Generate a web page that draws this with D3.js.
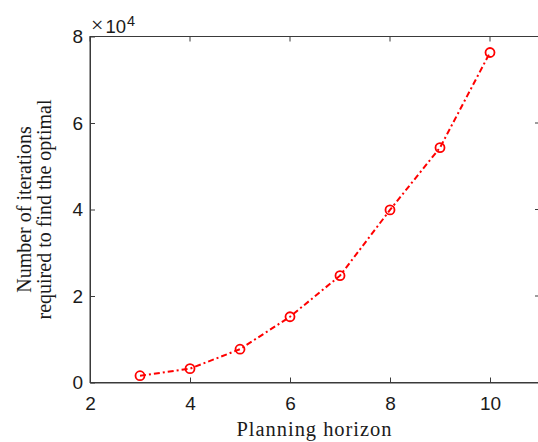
<!DOCTYPE html>
<html>
<head>
<meta charset="utf-8">
<script src="https://cdn.jsdelivr.net/npm/d3@7"></script>
<style>
  body { margin: 0; background: #fff; }
  svg { display: block; }
</style>
</head>
<body>
<div id="chart"></div>
<script>
// planning horizon vs. iterations needed (plotted in units of 1e4)
const horizon = [3, 4, 5, 6, 7, 8, 9, 10];
const iterations = [1570, 3200, 7700, 15200, 24700, 39900, 54300, 76300];
const xTicks = [2, 4, 6, 8, 10];
const yTicks = [0, 2, 4, 6, 8];
const yLabelLines = ["Number of iterations", "required to find the optimal"];
const xLabel = "Planning horizon";

const width = 538, height = 442;
const margin = { top: 36.5, right: -2, bottom: 59.5, left: 90 };

const svg = d3.select("#chart").append("svg")
  .attr("width", width)
  .attr("height", height);

const x = d3.scaleLinear().domain([2, 11]).range([margin.left, width - margin.right]);
const y = d3.scaleLinear().domain([0, 8]).range([height - margin.bottom, margin.top]);

const axisColor = "#3a3a3a";
const textColor = "#1a1a1a";
const tickFont = "'Liberation Sans', Arial, sans-serif";
const serifFont = "'Liberation Serif', 'DejaVu Serif', serif";

// box
svg.append("rect")
  .attr("x", x(2)).attr("y", y(8))
  .attr("width", x(11) - x(2)).attr("height", y(0) - y(8))
  .attr("fill", "none").attr("stroke", axisColor).attr("stroke-width", 1);

const xAxis = svg.append("g")
  .attr("transform", `translate(0,${y(0)})`)
  .call(d3.axisBottom(x).tickValues(xTicks).tickSizeInner(-5).tickSizeOuter(0).tickPadding(14));
const yAxis = svg.append("g")
  .attr("transform", `translate(${x(2)},0)`)
  .call(d3.axisLeft(y).tickValues(yTicks).tickSizeInner(-5).tickSizeOuter(0).tickPadding(7));

[xAxis, yAxis].forEach(g => {
  g.select(".domain").attr("stroke", axisColor);
  g.selectAll(".tick line").attr("stroke", axisColor);
  g.selectAll(".tick text")
    .attr("fill", textColor)
    .style("font-family", tickFont)
    .style("font-size", "19px");
});

// mirrored ticks on top and right
svg.append("g").selectAll("line").data(xTicks).join("line")
  .attr("x1", d => x(d)).attr("x2", d => x(d))
  .attr("y1", y(8)).attr("y2", y(8) + 5)
  .attr("stroke", axisColor);
svg.append("g").selectAll("line").data(yTicks).join("line")
  .attr("x1", x(11)).attr("x2", x(11) - 5)
  .attr("y1", d => y(d)).attr("y2", d => y(d))
  .attr("stroke", axisColor);

// exponent label
const expo = svg.append("text")
  .attr("x", x(2) + 1).attr("y", y(8) - 4)
  .attr("fill", textColor)
  .style("font-family", tickFont)
  .style("font-size", "18.5px");
expo.append("tspan").text("\u00d7")
  .style("font-family", serifFont).style("font-size", "22px").attr("dy", -1);
expo.append("tspan").text("10").attr("dx", 2).attr("dy", 1);
expo.append("tspan").text("4").attr("dx", 1).attr("dy", -7).style("font-size", "14.5px");

// data line
const pts = horizon.map((h, i) => [h, iterations[i] / 1e4]);
svg.append("path")
  .datum(pts)
  .attr("fill", "none")
  .attr("stroke", "#ff0000")
  .attr("stroke-width", 2)
  .attr("stroke-dasharray", "6,3,2,3")
  .attr("d", d3.line().x(d => x(d[0])).y(d => y(d[1])));

svg.append("g").selectAll("circle").data(pts).join("circle")
  .attr("cx", d => x(d[0]))
  .attr("cy", d => y(d[1]))
  .attr("r", 4.5)
  .attr("fill", "none")
  .attr("stroke", "#ff0000")
  .attr("stroke-width", 1.8);

// axis labels
svg.append("text")
  .attr("x", (x(2) + x(11)) / 2 - 1)
  .attr("y", 436)
  .attr("text-anchor", "middle")
  .attr("fill", textColor)
  .attr("textLength", 155)
  .attr("lengthAdjust", "spacing")
  .style("font-family", serifFont)
  .style("font-size", "20.5px")
  .text(xLabel);

const yl = svg.append("text")
  .attr("transform", `translate(31,${(y(0) + y(8)) / 2}) rotate(-90)`)
  .attr("text-anchor", "middle")
  .attr("fill", textColor)
  .style("font-family", serifFont)
  .style("font-size", "20px");
yl.selectAll("tspan").data(yLabelLines).join("tspan")
  .attr("x", 0)
  .attr("dy", (d, i) => i === 0 ? 0 : 20)
  .text(d => d);
</script>
</body>
</html>
